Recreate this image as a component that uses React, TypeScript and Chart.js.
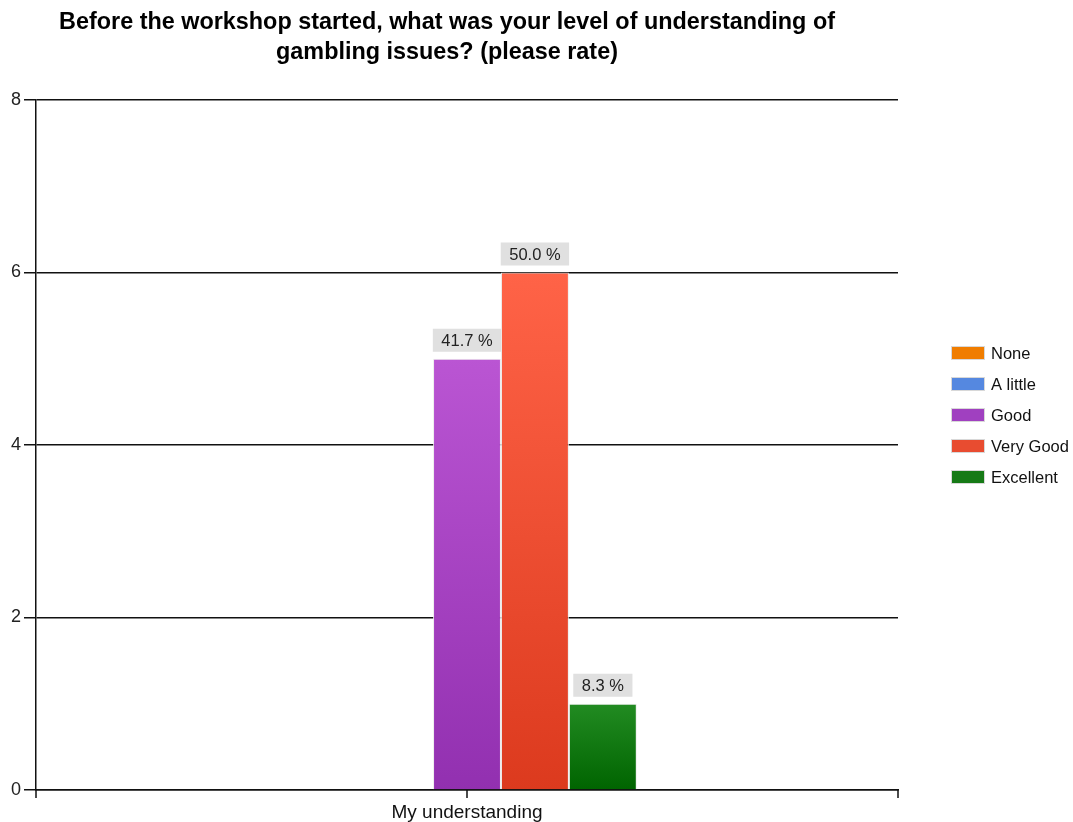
import React, { useEffect, useRef } from 'react';
import { Chart, registerables } from 'chart.js';

Chart.register(...registerables);

const categories = ['My understanding'];
const seriesNames = ['None', 'A little', 'Good', 'Very Good', 'Excellent'];
const noneValues = [0];
const aLittleValues = [0];
const goodValues = [5];
const veryGoodValues = [6];
const excellentValues = [1];
const yMin = 0;
const yMax = 8;
const yStep = 2;
const titleLines = [
  'Before the workshop started, what was your level of understanding of',
  'gambling issues? (please rate)',
];

const gradientTop = ['#ff9a1a', '#7ea4f2', '#ba55d3', '#ff6347', '#228b22'];
const gradientBottom = ['#e06c00', '#3f6fd8', '#9230b0', '#dc3a1e', '#006400'];
const legendColors = ['#f07d00', '#5588e0', '#a040c0', '#e84c30', '#167a16'];

const FONT = "'Liberation Sans', Arial, sans-serif";
const LINE = '#111';
const LINE_W = 1.5;

const seriesValues = [noneValues, aLittleValues, goodValues, veryGoodValues, excellentValues];

function barGradient(i: number) {
  return (ctx: any) => {
    const chart = ctx.chart;
    const y = chart.scales?.y;
    if (!y || ctx.type !== 'data') return gradientTop[i];
    const v = ctx.raw as number;
    const top = y.getPixelForValue(v);
    const bottom = y.getPixelForValue(0);
    if (!isFinite(top) || !isFinite(bottom) || top === bottom) return gradientTop[i];
    const g = chart.ctx.createLinearGradient(0, top, 0, bottom);
    g.addColorStop(0, gradientTop[i]);
    g.addColorStop(1, gradientBottom[i]);
    return g;
  };
}

const decorPlugin = {
  id: 'decor',
  afterDraw(chart: any) {
    const { ctx, chartArea, scales } = chart;
    const x = scales.x;
    ctx.save();
    // title
    ctx.fillStyle = '#000';
    ctx.font = `bold 23.4px ${FONT}`;
    ctx.textAlign = 'center';
    ctx.textBaseline = 'middle';
    const cx = chartArea.right / 2 - 2;
    titleLines.forEach((t, i) => ctx.fillText(t, cx, 23 + i * 30));

    // x axis ticks
    ctx.strokeStyle = LINE;
    ctx.lineWidth = LINE_W;
    const ticksX = [chartArea.left, x.getPixelForValue(0), chartArea.right];
    ctx.beginPath();
    ticksX.forEach((px) => {
      const p = Math.round(px);
      ctx.moveTo(p, chartArea.bottom);
      ctx.lineTo(p, chartArea.bottom + 8);
    });
    ctx.stroke();

    // legend
    ctx.font = `16.5px ${FONT}`;
    ctx.textAlign = 'left';
    ctx.textBaseline = 'middle';
    const lx = chartArea.right + 54;
    const ly0 = chartArea.top + 253;
    seriesNames.forEach((name, i) => {
      const yy = ly0 + i * 31;
      ctx.fillStyle = '#d8d8d8';
      ctx.fillRect(lx - 1, yy - 7, 34, 14);
      ctx.fillStyle = legendColors[i];
      ctx.fillRect(lx, yy - 6, 32, 12);
      ctx.fillStyle = '#111';
      ctx.fillText(name, lx + 39, yy + 1);
    });
    ctx.restore();
  },
  afterDatasetsDraw(chart: any) {
    const { ctx } = chart;
    const total = seriesValues.reduce((s, arr) => s + arr[0], 0);
    ctx.save();
    ctx.font = `16.5px ${FONT}`;
    ctx.textAlign = 'center';
    ctx.textBaseline = 'middle';
    chart.data.datasets.forEach((ds: any, di: number) => {
      const meta = chart.getDatasetMeta(di);
      meta.data.forEach((el: any, idx: number) => {
        const v = ds.data[idx];
        if (!v) return;
        const txt = ((v / total) * 100).toFixed(1) + ' %';
        const tw = ctx.measureText(txt).width;
        const w = tw + 17;
        const h = 23;
        const bottom = el.y - 7;
        ctx.fillStyle = '#e0e0e0';
        ctx.fillRect(el.x - w / 2, bottom - h, w, h);
        ctx.fillStyle = '#222';
        ctx.fillText(txt, el.x, bottom - h / 2 + 1);
      });
    });
    ctx.restore();
  },
};

export default function App() {
  const ref = useRef<HTMLCanvasElement>(null);
  useEffect(() => {
    if (!ref.current) return;
    const chart = new Chart(ref.current, {
      type: 'bar',
      data: {
        labels: categories,
        datasets: seriesNames.map((name, i) => ({
          label: name,
          data: seriesValues[i],
          backgroundColor: barGradient(i),
          borderColor: 'rgba(235,235,235,0.9)',
          borderWidth: 1,
          categoryPercentage: 0.394,
          barPercentage: 1,
        })),
      },
      options: {
        responsive: false,
        animation: false,
        layout: { padding: { top: 100, right: 175, left: 0, bottom: 0 } },
        plugins: {
          legend: { display: false },
          title: { display: false },
          tooltip: { enabled: false },
        },
        scales: {
          x: {
            grid: { display: false },
            border: { display: true, color: LINE, width: LINE_W },
            ticks: { font: { family: FONT, size: 19 }, color: '#111', padding: 3 },
            afterFit: (s: any) => {
              s.height = 32;
            },
          },
          y: {
            min: yMin,
            max: yMax,
            ticks: { stepSize: yStep, font: { family: FONT, size: 18 }, color: '#222', padding: 3 },
            grid: { color: LINE, lineWidth: LINE_W, tickLength: 12, tickColor: LINE },
            border: { display: true, color: LINE, width: LINE_W },
            afterFit: (s: any) => {
              s.width = 36;
            },
          },
        },
      },
      plugins: [decorPlugin],
    });
    return () => chart.destroy();
  }, []);
  return (
    <div style={{ position: 'fixed', left: 0, top: 0, width: 1073, height: 822, background: '#fff' }}>
      <canvas ref={ref} width={1073} height={822} style={{ display: 'block' }} />
    </div>
  );
}
